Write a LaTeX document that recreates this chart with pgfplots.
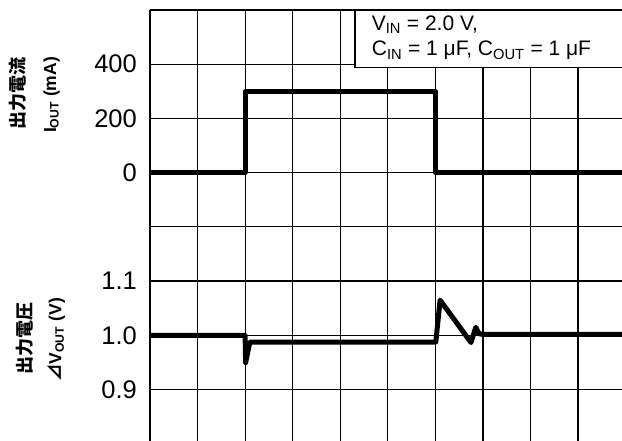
\documentclass[border=0pt]{standalone}
\usepackage{fontspec}
\setmainfont{Liberation Sans}
\newfontfamily\cjk{Noto Sans CJK JP}
\usepackage{pgfplots}
\pgfplotsset{compat=1.18}

\pgfplotsset{
  panel/.style={
    scale only axis, width=472pt, xmin=0, xmax=9.925,
    xtick={0,...,9}, xticklabels={},
    axis x line*=top, axis y line*=left,
    axis line style={-, line width=1.2pt, black},
    every outer x axis line/.append style={-},
    every outer y axis line/.append style={-},
    grid=major, major grid style={line width=1.2pt, black},
    major tick length=0pt, tick style={draw=none},
    yticklabel style={font=\fontsize{25.5}{28}\selectfont, inner sep=0pt, xshift=-13pt},
  },
  trace/.style={black, line width=5pt, line join=round},
}

\begin{document}
\begin{tikzpicture}
\useasboundingbox (0,0) rectangle (622pt,441pt);
\clip (0,0) rectangle (622pt,441pt);

% output current
\begin{axis}[panel, at={(150pt,214.3pt)}, anchor=south west, height=216.7pt,
  ymin=-200, ymax=600, ytick={-200,0,200,400,600}, yticklabels={,0,200,400,}]
  \addplot[trace] coordinates {(0,0) (2,0) (2,300) (6,300) (6,0) (10,0)};
\end{axis}

% output voltage
\begin{axis}[panel, at={(150pt,0pt)}, anchor=south west, height=214.3pt,
  ymin=0.806, ymax=1.2, ytick={0.9,1.0,1.1,1.2}, yticklabels={0.9,1.0,1.1,}]
  \addplot[trace] coordinates {
    (0,1.0) (2.0,1.0) (2.01,0.95) (2.1,0.988) (6.01,0.988)
    (6.1,1.065) (6.75,0.987) (6.85,1.015) (6.92,1.003) (7.0,1.002) (10,1.002)};
\end{axis}

\node[rotate=90, font=\cjk\bfseries\fontsize{18}{20}\selectfont] at (18pt,347pt) {出力電流};
\node[rotate=90, font=\bfseries\fontsize{17.5}{20}\selectfont] at (51.5pt,346pt) {I\textsubscript{OUT} (mA)};
\node[rotate=90, font=\cjk\bfseries\fontsize{18}{20}\selectfont] at (25pt,102pt) {出力電圧};
\node[rotate=90, font=\bfseries\fontsize{17.5}{20}\selectfont] at (56pt,101pt) {{\cjk ⊿}V\textsubscript{OUT} (V)};

\draw[line width=1.2pt, fill=white] (355pt,373.3pt) rectangle (650pt,431pt);
\node[anchor=base west, inner sep=0pt, font=\fontsize{21}{24}\selectfont] at (371.7pt,410.3pt) {V\textsubscript{IN} = 2.0 V,};
\node[anchor=base west, inner sep=0pt, font=\fontsize{21}{24}\selectfont] at (371.7pt,385pt) {C\textsubscript{IN} = 1 μF, C\textsubscript{OUT} = 1 μF};
\end{tikzpicture}
\end{document}
